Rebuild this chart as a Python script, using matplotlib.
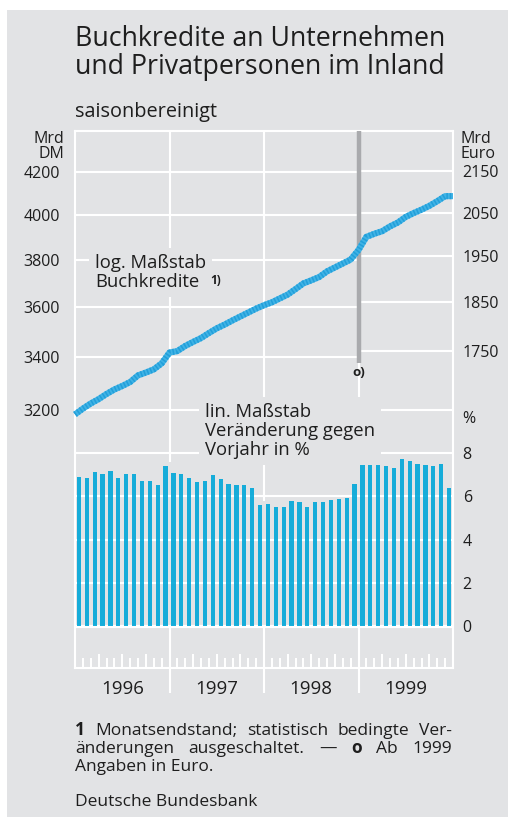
import matplotlib
matplotlib.use("Agg")
import matplotlib.pyplot as plt
import numpy as np
from matplotlib.ticker import FixedLocator, NullLocator, FuncFormatter
import matplotlib.patches as mpatches

# ---------------- data ----------------
# Buchkredite, Monatsendstand: Dez 1995 .. Dez 1998 (Mrd DM)
credit_dm = [3184, 3205, 3224, 3240, 3259, 3276, 3289, 3304, 3329, 3340, 3352, 3375,
             3417, 3423, 3443, 3459, 3474, 3494, 3513, 3528, 3545, 3561, 3577, 3593,
             3607, 3619, 3635, 3651, 3674, 3698, 3711, 3725, 3749, 3766, 3783, 3800,
             3842]
# Jan 1999 .. Dez 1999 (Mrd Euro)
credit_euro = [1994, 2001, 2007, 2018, 2027, 2040, 2049, 2057, 2066, 2077, 2089, 2089]
# Veränderung gegen Vorjahr in %, Jan 1996 .. Dez 1999
growth_pct = [6.90, 6.85, 7.13, 7.02, 7.18, 6.85, 7.02, 7.04, 6.73, 6.73, 6.51, 7.42,
              7.08, 7.02, 6.85, 6.68, 6.69, 7.00, 6.79, 6.57, 6.52, 6.51, 6.38, 5.60,
              5.63, 5.50, 5.50, 5.79, 5.73, 5.49, 5.73, 5.73, 5.84, 5.89, 5.94, 6.58,
              7.77, 7.79, 7.68, 7.41, 7.31, 7.71, 7.63, 7.48, 7.45, 7.42, 7.49, 6.40]
years = ["1996", "1997", "1998", "1999"]
dm_ticks = [3200, 3400, 3600, 3800, 4000, 4200]
euro_ticks = [1750, 1850, 1950, 2050, 2150]
pct_ticks = [0, 2, 4, 6, 8]
pct_grid = [2, 4, 6, 8, 10]
EUR_DM = 1.95583

# ---------------- style ----------------
W, H = 515, 817
PANEL = "#e2e3e5"
TXT = "#1e1e1e"
BAR = "#00a6d8"
LINE = "#40b3e5"
LINE_DARK = "#229fda"
GRAY = "#a9aaad"
plt.rcParams["font.family"] = ["Open Sans", "DejaVu Sans"]
COND = ["Liberation Sans Narrow", "Open Sans", "DejaVu Sans"]
TICK_FS = 11.5

fig = plt.figure(figsize=(W / 100, H / 100), dpi=100)
fig.patch.set_facecolor("white")
fig.add_artist(mpatches.Rectangle((7 / W, 0), (508 - 7) / W, 1 - 10 / H,
                                  transform=fig.transFigure, facecolor=PANEL,
                                  edgecolor="none", zorder=-10))

def fx(px):
    return px / W

def fy(py):
    return 1 - py / H

# plot frame (pixels)
L, R, T, B = 75, 453, 131, 668
rect = [fx(L), fy(B), (R - L) / W, (B - T) / H]

# --- bar axes (linear %) ---
axb = fig.add_axes(rect)
axb.patch.set_visible(False)
pct_px = 21.6       # px per percent
zero_px = 626
axb.set_xlim(0, 48)
axb.set_ylim((zero_px - B) / pct_px, (zero_px - T) / pct_px)

n = len(growth_pct)
xb = np.arange(n) + 0.5
axb.hlines(pct_grid, 0, 48, color="white", lw=1.5, zorder=0)
axb.hlines([0], 0, 48, color="white", lw=2.3, zorder=0)
axb.bar(xb, growth_pct, width=0.55, color=BAR, alpha=0.9, zorder=2, linewidth=0)

top_pct = (zero_px - T) / pct_px
for k in (12, 24, 36):
    hi = max(growth_pct[k - 1], growth_pct[k]) + 0.15
    axb.vlines(k, hi, top_pct, color="white", lw=1.5, zorder=0)
    axb.vlines(k, (zero_px - 693) / pct_px, 0, color="white", lw=1.5, zorder=0,
               clip_on=False)

for s in axb.spines.values():
    s.set_color("white")
    s.set_linewidth(1.5)

axb.yaxis.tick_right()
axb.yaxis.set_major_locator(FixedLocator(pct_ticks))
axb.tick_params(axis="y", length=0, pad=7, labelsize=TICK_FS, labelcolor=TXT)
for lab in axb.get_yticklabels():
    lab.set_family(COND)

# x axis: year labels + month ticks
axb.xaxis.set_major_locator(FixedLocator([6, 18, 30, 42]))
axb.set_xticklabels(years)
axb.xaxis.set_minor_locator(FixedLocator([k for k in range(1, 48) if k % 3 != 0]))
axb.tick_params(axis="x", which="major", length=0, pad=9, labelsize=13.5, labelcolor=TXT)
axb.tick_params(axis="x", which="minor", direction="in", length=7, width=1.4,
                color="white")
secx = axb.secondary_xaxis("bottom")
secx.xaxis.set_major_locator(FixedLocator([k for k in range(3, 48, 3) if k % 12 != 0]))
secx.tick_params(direction="in", length=10, width=1.4, color="white", labelbottom=False)
secx.spines["bottom"].set_visible(False)

# --- line axes (log DM) ---
axl = fig.add_axes(rect)
axl.patch.set_visible(False)
axl.set_xlim(0, 48)
axl.set_yscale("log")
p3200, p4200 = 410, 172
lp = (np.log10(4200) - np.log10(3200)) / (p3200 - p4200)
def px2dm(py):
    return 10 ** (np.log10(3200) + (p3200 - py) * lp)
axl.set_ylim(px2dm(B), px2dm(T))
for s in axl.spines.values():
    s.set_visible(False)
axl.set_xticks([])

axl.hlines(dm_ticks[1:], 0, 36, color="white", lw=1.5, zorder=1)
axl.hlines([e * EUR_DM for e in euro_ticks], 36, 48, color="white", lw=1.5, zorder=1)
axl.vlines(36, px2dm(363), px2dm(T), color=GRAY, lw=3.2, zorder=2)
axl.text(36, px2dm(373), "o)", ha="center", va="center", fontsize=9.5,
         fontweight="bold", color=TXT)

values = credit_dm + [e * EUR_DM for e in credit_euro]
xl = np.arange(len(values))
axl.plot(xl, values, color=LINE, lw=4.4, solid_capstyle="butt", zorder=5,
         clip_on=False)
axl.plot(xl, values, color=LINE_DARK, lw=4.4, dashes=(0.25, 0.3),
         dash_capstyle="butt", zorder=6, clip_on=False)

axl.yaxis.set_major_locator(FixedLocator(dm_ticks))
axl.yaxis.set_minor_locator(NullLocator())
axl.yaxis.set_major_formatter(FuncFormatter(lambda v, p: f"{v:.0f}"))
axl.tick_params(axis="y", length=0, pad=11, labelsize=TICK_FS, labelcolor=TXT)
for lab in axl.get_yticklabels():
    lab.set_family(COND)

sec = axl.secondary_yaxis("right", functions=(lambda d: d / EUR_DM,
                                              lambda e: e * EUR_DM))
sec.yaxis.set_major_locator(FixedLocator(euro_ticks))
sec.yaxis.set_minor_locator(NullLocator())
sec.yaxis.set_major_formatter(FuncFormatter(lambda v, p: f"{v:.0f}"))
sec.tick_params(length=0, pad=7, labelsize=TICK_FS, labelcolor=TXT)
for s in sec.spines.values():
    s.set_visible(False)
for lab in sec.get_yticklabels():
    lab.set_family(COND)

# axis unit labels
fig.text(fx(64), fy(146.5), "Mrd\nDM", ha="right", va="center", fontsize=TICK_FS,
         family=COND, color=TXT, linespacing=0.85, multialignment="right")
fig.text(fx(461), fy(146.5), "Mrd\nEuro", ha="left", va="center", fontsize=TICK_FS,
         family=COND, color=TXT, linespacing=0.85)
fig.text(fx(462), fy(419), "%", ha="left", va="center", fontsize=TICK_FS,
         family=COND, color=TXT)

# annotations
fig.text(fx(95), fy(272.5), "log. Maßstab\nBuchkredite", ha="left", va="center",
         fontsize=13.3, color=TXT, linespacing=1.1, zorder=20,
         bbox=dict(facecolor=PANEL, edgecolor="none", pad=4))
fig.text(fx(210), fy(280), "1)", ha="left", va="center", fontsize=8.5,
         fontweight="bold", color=TXT, zorder=21)
fig.text(fx(205), fy(431), "lin. Maßstab\nVeränderung gegen\nVorjahr in %",
         ha="left", va="center", fontsize=13.3, color=TXT, linespacing=1.1,
         zorder=20, bbox=dict(facecolor=PANEL, edgecolor="none", pad=4))

# title
fig.text(fx(75), fy(46), "Buchkredite an Unternehmen", ha="left", va="baseline",
         fontsize=19.3, color=TXT)
fig.text(fx(75), fy(74), "und Privatpersonen im Inland", ha="left", va="baseline",
         fontsize=19.3, color=TXT)
fig.text(fx(75), fy(117), "saisonbereinigt", ha="left", va="baseline",
         fontsize=14.3, color=TXT)

# footnote (justified lines)
fs = 12.5
renderer = fig.canvas.get_renderer()

def justify(words, py, x0=75, x1=452):
    arts = [fig.text(0, fy(py), w, ha="left", va="baseline", fontsize=fs,
                     fontweight=fw, color=TXT) for w, fw in words]
    widths = [a.get_window_extent(renderer).width for a in arts]
    gap = (x1 - x0 - sum(widths)) / (len(arts) - 1)
    x = x0
    for a, wd in zip(arts, widths):
        a.set_x(fx(x))
        x += wd + gap

justify([("1", "bold"), ("Monatsendstand;", "normal"), ("statistisch", "normal"),
         ("bedingte", "normal"), ("Ver-", "normal")], 735)
justify([("änderungen", "normal"), ("ausgeschaltet.", "normal"), ("—", "normal"),
         ("o", "bold"), ("Ab", "normal"), ("1999", "normal")], 753)
fig.text(fx(75), fy(771), "Angaben in Euro.", ha="left", va="baseline",
         fontsize=fs, color=TXT)
fig.text(fx(75), fy(806), "Deutsche Bundesbank", ha="left", va="baseline",
         fontsize=fs, color=TXT)

fig.savefig("out.png", dpi=100, facecolor=fig.get_facecolor())
